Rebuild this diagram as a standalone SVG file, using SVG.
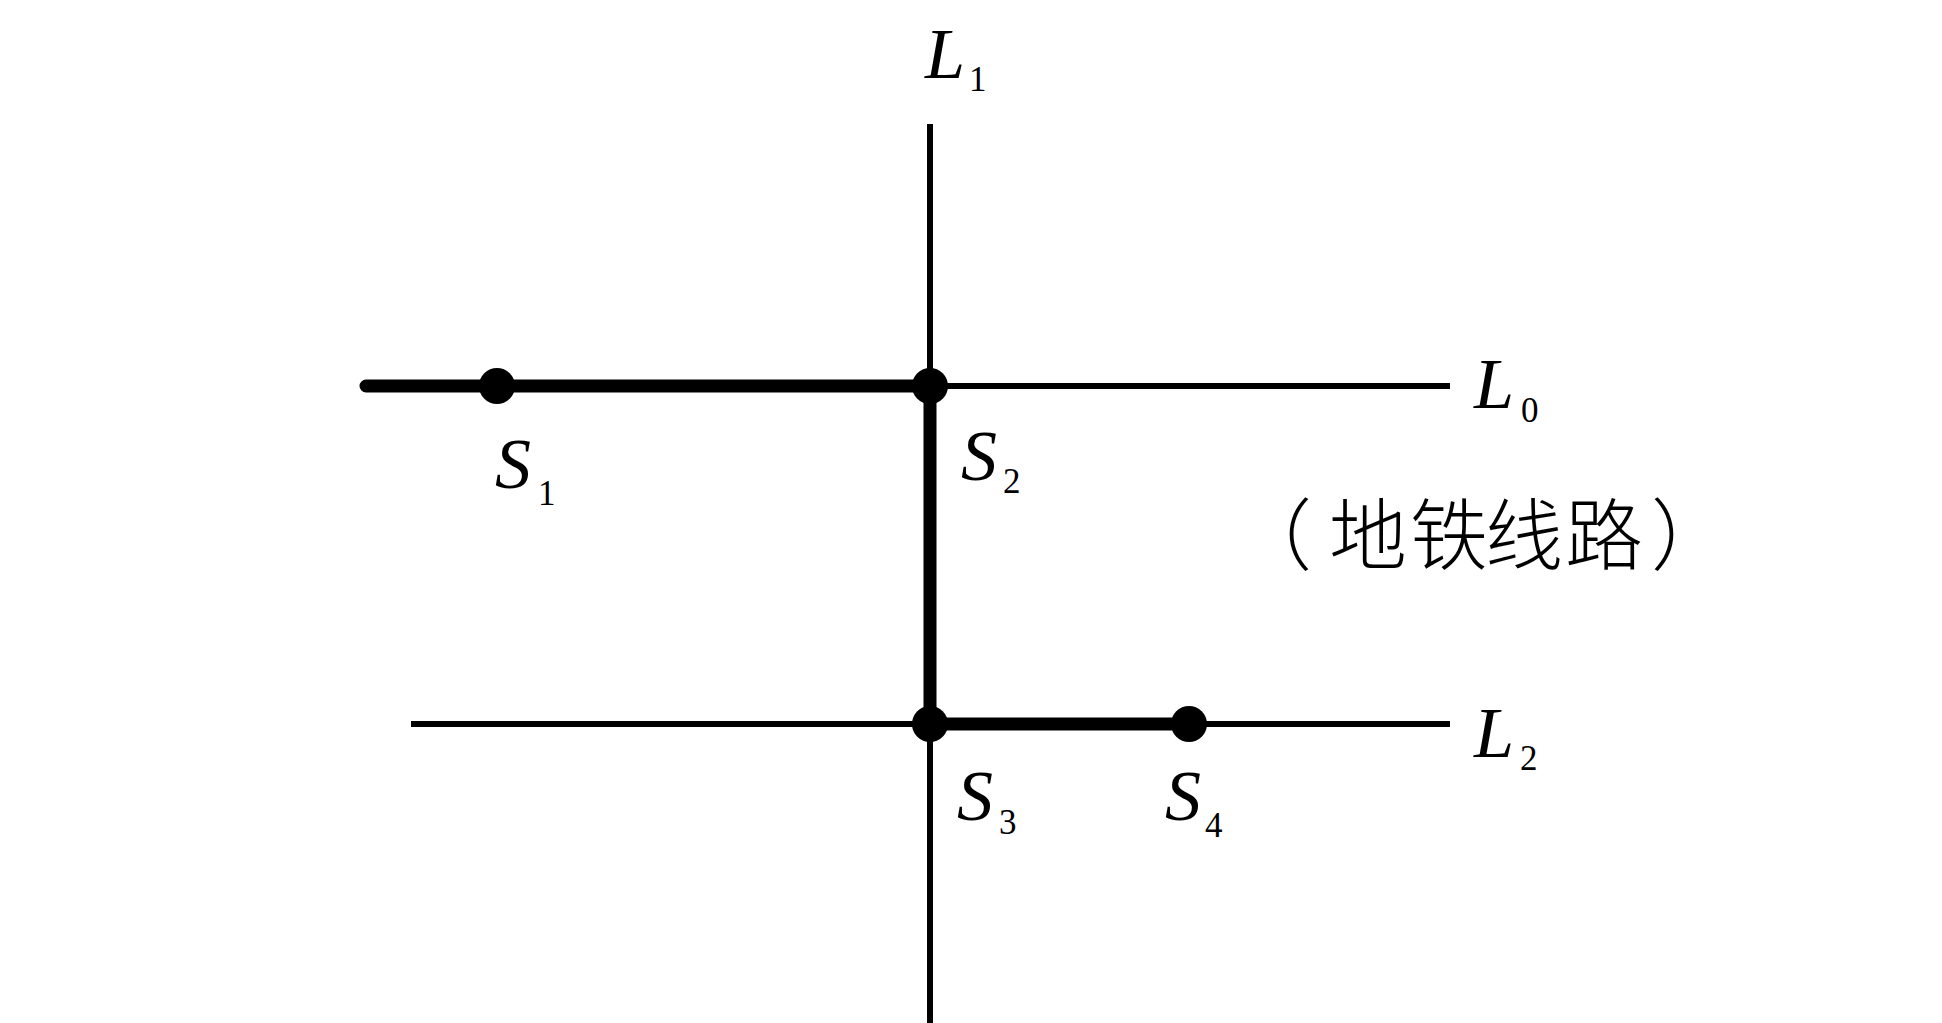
<svg xmlns="http://www.w3.org/2000/svg" width="1942" height="1023" viewBox="0 0 1942 1023">
<style>
.thin{stroke:#000;stroke-width:6;fill:none}
.thick{stroke:#000;stroke-width:13;fill:none;stroke-linecap:round;stroke-linejoin:round}
.dot{fill:#000}
.lab{font-family:"Liberation Serif",serif;font-style:italic;font-size:72px;fill:#000}
.sub{font-family:"Liberation Serif",serif;font-size:35px;fill:#000}
.cn{font-family:"Noto Sans CJK SC","Noto Sans CJK TC",sans-serif;font-weight:300;font-size:78px;fill:#000}
</style>
<rect width="1942" height="1023" fill="#fff"/>
<g id="connectors">
<line class="thin" x1="930" y1="124" x2="930" y2="1023"/>
<line class="thin" x1="930" y1="386" x2="1450" y2="386"/>
<line class="thin" x1="411" y1="724" x2="1450" y2="724"/>
<path class="thick" d="M366 386 H930 V724 H1189"/>
</g>
<g id="L1"><text class="lab" x="925" y="78">L</text><text class="sub" x="969" y="91">1</text></g>
<g id="L0"><text class="lab" x="1474" y="408">L</text><text class="sub" x="1521" y="422">0</text></g>
<g id="L2"><text class="lab" x="1474" y="757">L</text><text class="sub" x="1520" y="770">2</text></g>
<g id="S1"><circle class="dot" cx="497" cy="386" r="18"/><text class="lab" x="495" y="488">S</text><text class="sub" x="538" y="505">1</text></g>
<g id="S2"><circle class="dot" cx="930" cy="386" r="18"/><text class="lab" x="961" y="480">S</text><text class="sub" x="1003" y="493">2</text></g>
<g id="S3"><circle class="dot" cx="930" cy="724" r="18"/><text class="lab" x="957" y="820">S</text><text class="sub" x="999" y="834">3</text></g>
<g id="S4"><circle class="dot" cx="1189" cy="724" r="18"/><text class="lab" x="1165" y="820">S</text><text class="sub" x="1205" y="837">4</text></g>
<g id="caption"><text class="cn" x="1234 1329 1410 1485 1565 1651" y="564">（地铁线路）</text></g>
</svg>
